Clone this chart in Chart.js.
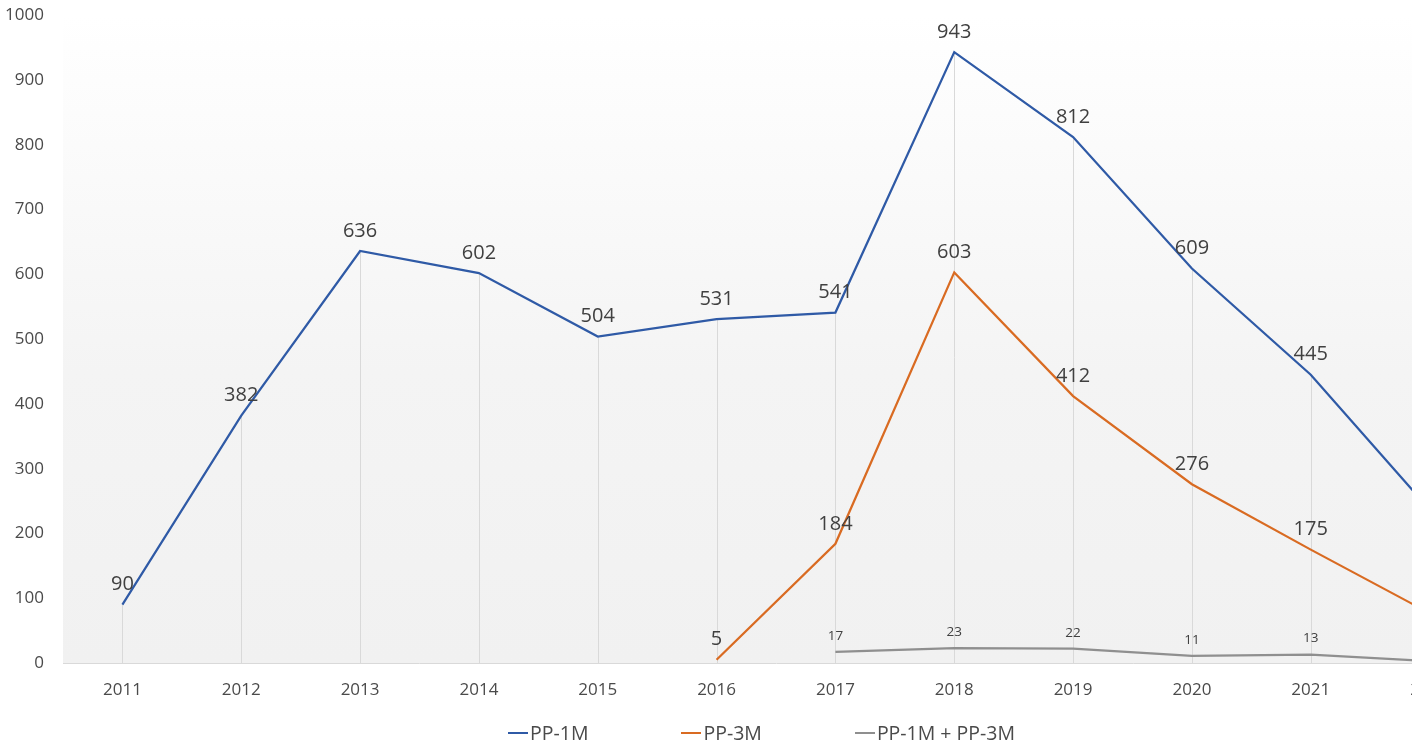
<!DOCTYPE html>
<html>
<head>
<meta charset="utf-8">
<script src="https://cdn.jsdelivr.net/npm/chart.js@4/dist/chart.umd.min.js"></script>
<style>
  body { margin: 0; background: #fff; font-family: "Open Sans", sans-serif; }
  #frame { position: relative; width: 1412px; height: 748px; overflow: hidden; }
  #box { position: absolute; left: 0; top: -14px; width: 1522px; height: 762px; }
  #legend { position: absolute; left: 508px; top: 719px; display: flex; gap: 93px; font-size: 19.5px; color: #4a4a4a; line-height: 28px; }
  #legend .item { display: flex; align-items: center; }
  #legend .mark { display: inline-block; width: 20px; height: 2px; margin-right: 2px; }
</style>
</head>
<body>
<div id="frame">
  <div id="box"><canvas id="chart"></canvas></div>
  <div id="legend"></div>
</div>
<script>
const years = ["2011", "2012", "2013", "2014", "2015", "2016", "2017", "2018", "2019", "2020", "2021", "2022"];
const pp1m = [90, 382, 636, 602, 504, 531, 541, 943, 812, 609, 445, 237];
const pp3m = [null, null, null, null, null, 5, 184, 603, 412, 276, 175, 77];
const both = [null, null, null, null, null, null, 17, 23, 22, 11, 13, 3];
const yTicks = [0, 100, 200, 300, 400, 500, 600, 700, 800, 900, 1000];

const seriesNames = ["PP-1M", "PP-3M", "PP-1M + PP-3M"];
const seriesColors = ["#2f5aa6", "#d96b22", "#8f8f8f"];

// plot background: white at the top fading to light gray
const plotBg = {
  id: "plotBg",
  beforeDraw(chart) {
    const { ctx, chartArea: a } = chart;
    const g = ctx.createLinearGradient(0, a.top, 0, a.bottom);
    g.addColorStop(0, "#ffffff");
    g.addColorStop(0.55, "#f4f4f4");
    g.addColorStop(1, "#f1f1f1");
    ctx.save();
    ctx.fillStyle = g;
    ctx.fillRect(a.left, a.top - 3, a.right - a.left, a.bottom - a.top + 3);
    ctx.restore();
  },
};

// drop lines from the highest point of each year down to the axis
const dropLines = {
  id: "dropLines",
  beforeDatasetsDraw(chart) {
    const { ctx, chartArea: a, scales } = chart;
    ctx.save();
    ctx.strokeStyle = "#d9d9d9";
    ctx.lineWidth = 1;
    years.forEach((yr, i) => {
      const vals = chart.data.datasets.map((d) => d.data[i]).filter((v) => v !== null);
      if (!vals.length) return;
      const x = Math.round(scales.x.getPixelForValue(i)) + 0.5;
      ctx.beginPath();
      ctx.moveTo(x, scales.y.getPixelForValue(Math.max(...vals)));
      ctx.lineTo(x, a.bottom);
      ctx.stroke();
    });
    ctx.restore();
  },
};

// value labels above each point
const valueLabels = {
  id: "valueLabels",
  afterDatasetsDraw(chart) {
    const { ctx } = chart;
    ctx.save();
    ctx.fillStyle = "#404040";
    ctx.textAlign = "center";
    ctx.textBaseline = "middle";
    chart.data.datasets.forEach((ds, di) => {
      const meta = chart.getDatasetMeta(di);
      ctx.font = ds.labelSize + "px 'Open Sans'";
      meta.data.forEach((pt, i) => {
        const v = ds.data[i];
        if (v === null) return;
        ctx.fillText(String(v), pt.x, pt.y - ds.labelGap);
      });
    });
    ctx.restore();
  },
};

const ctx = document.getElementById("chart").getContext("2d");
new Chart(ctx, {
  type: "line",
  data: {
    labels: years,
    datasets: [
      { label: seriesNames[0], data: pp1m, borderColor: seriesColors[0], labelSize: 20, labelGap: 20 },
      { label: seriesNames[1], data: pp3m, borderColor: seriesColors[1], labelSize: 20, labelGap: 20 },
      { label: seriesNames[2], data: both, borderColor: seriesColors[2], labelSize: 13.5, labelGap: 16 },
    ].map((d) => ({ ...d, borderWidth: 2.25, pointRadius: 0, fill: false, tension: 0 })),
  },
  options: {
    responsive: true,
    maintainAspectRatio: false,
    animation: false,
    layout: { padding: { left: 5, top: 0, right: 33, bottom: 0 } },
    plugins: { legend: { display: false }, tooltip: { enabled: false } },
    scales: {
      x: {
        offset: true,
        grid: { color: "transparent", drawTicks: false },
        border: { display: true, color: "#d9d9d9", width: 1 },
        ticks: { color: "#4a4a4a", font: { family: "Open Sans", size: 17 }, padding: 17, maxRotation: 0, autoSkip: false },
        afterFit: (s) => { s.height = 85; },
      },
      y: {
        min: 0,
        max: 1000,
        afterBuildTicks: (s) => { s.ticks = yTicks.map((v) => ({ value: v })); },
        grid: { display: false, drawTicks: false },
        border: { display: false },
        ticks: { color: "#4a4a4a", font: { family: "Open Sans", size: 17 }, padding: 19, callback: (v) => String(v) },
        afterFit: (s) => { s.width = 58; },
      },
    },
  },
  plugins: [plotBg, dropLines, valueLabels],
});

const legend = document.getElementById("legend");
seriesNames.forEach((name, i) => {
  const item = document.createElement("div");
  item.className = "item";
  const mark = document.createElement("span");
  mark.className = "mark";
  mark.style.background = seriesColors[i];
  const txt = document.createElement("span");
  txt.textContent = name;
  item.appendChild(mark);
  item.appendChild(txt);
  legend.appendChild(item);
});
</script>
</body>
</html>
